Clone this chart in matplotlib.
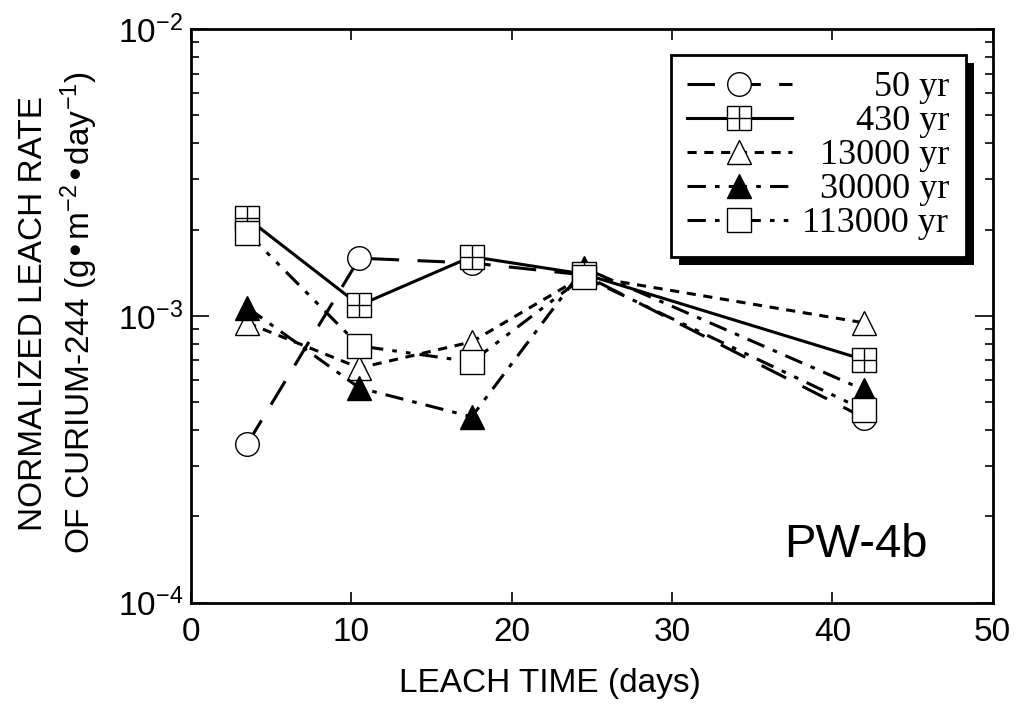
import matplotlib
matplotlib.use('Agg')
import matplotlib.pyplot as plt
from matplotlib.patches import Rectangle
from matplotlib.ticker import LogLocator, NullFormatter

plt.rcParams['font.family'] = ['Liberation Sans', 'DejaVu Sans']
plt.rcParams['mathtext.default'] = 'regular'

# leach time (days) and normalized leach rates
leach_time = [3.5, 10.5, 17.5, 24.5, 42]
rate_50 = [3.58e-4, 1.59e-3, 1.53e-3, 1.39e-3, 4.41e-4]
rate_430 = [2.19e-3, 1.09e-3, 1.61e-3, 1.40e-3, 7.03e-4]
rate_13000 = [9.46e-4, 6.59e-4, 8.12e-4, 1.38e-3, 9.46e-4]
rate_30000 = [1.07e-3, 5.61e-4, 4.45e-4, 1.47e-3, 5.52e-4]
rate_113000 = [1.95e-3, 7.86e-4, 6.92e-4, 1.37e-3, 4.70e-4]

labels = ['50 yr', '430 yr', '13000 yr', '30000 yr', '113000 yr']
x_ticks = [0, 10, 20, 30, 40, 50]
y_ticks = [1e-4, 1e-3, 1e-2]
y_ticklabels = ['$10^{-4}$', '$10^{-3}$', '$10^{-2}$']

# right align legend labels: in Times metrics a digit is two spaces wide
longest = max(len(l) for l in labels)
legend_labels = [' ' * (2 * (longest - len(l))) + l for l in labels]

fig = plt.figure(figsize=(10.17, 7.10), dpi=100)
ax = fig.add_axes([0.188, 0.151, 0.788, 0.808])

lw = 2.2
ms = 17
mew = 1.0
mk = dict(markerfacecolor='white', markeredgecolor='black', markeredgewidth=mew, markersize=ms)

h50, = ax.plot(leach_time, rate_50, color='black', lw=lw, marker='o', dashes=(9, 6), **mk)
h13000, = ax.plot(leach_time, rate_13000, color='black', lw=lw, marker='^', dashes=(3, 2.5), **mk)
h30000, = ax.plot(leach_time, rate_30000, color='black', lw=lw, marker='^', dashes=(6, 3, 1.5, 3),
                  markerfacecolor='black', markeredgecolor='black', markersize=ms)
h430, = ax.plot(leach_time, rate_430, color='black', lw=lw, marker='s', **mk)
h430p, = ax.plot(leach_time, rate_430, color='black', lw=0, marker='+', markersize=ms, markeredgewidth=mew)
h113000, = ax.plot(leach_time, rate_113000, color='black', lw=lw, marker='s',
                   dashes=(6, 3, 1.5, 3, 1.5, 3), **mk)

ax.set_yscale('log')
ax.set_xlim(0, 50)
ax.set_ylim(1e-4, 1e-2)
ax.set_xticks(x_ticks)
ax.set_xticklabels([str(t) for t in x_ticks])
ax.set_yticks(y_ticks)
ax.set_yticklabels(y_ticklabels)
ax.yaxis.set_minor_locator(LogLocator(base=10, subs=range(2, 10)))
ax.yaxis.set_minor_formatter(NullFormatter())

ax.tick_params(axis='both', which='both', direction='in', top=True, right=True, labelsize=24, width=1.2)
ax.tick_params(axis='x', which='major', length=8, pad=10)
ax.tick_params(axis='y', which='major', length=13, pad=6)
ax.tick_params(axis='y', which='minor', length=6)
for s in ax.spines.values():
    s.set_linewidth(2)

ax.set_xlabel('LEACH TIME (days)', fontsize=24)
ax.xaxis.set_label_coords(0.448, -0.113)
ax.set_ylabel('NORMALIZED LEACH RATE\nOF CURIUM-244 (g•m$^{-2}$•day$^{-1}$)', fontsize=24, linespacing=1.3)
ax.yaxis.set_label_coords(-0.114, 0.505)

ax.text(0.83, 0.10, 'PW-4b', transform=ax.transAxes, fontsize=34, ha='center', va='center')

leg = ax.legend([h50, (h430, h430p), h13000, h30000, h113000], legend_labels,
                loc='upper right', bbox_to_anchor=(0.967, 0.955), borderaxespad=0,
                prop={'family': 'Liberation Serif', 'size': 26}, handlelength=2.9,
                handletextpad=0.3, labelspacing=0.02, borderpad=0.45,
                frameon=True, fancybox=False, framealpha=1, edgecolor='black')
leg.get_frame().set_linewidth(2)

# drop shadow behind the legend box
fig.canvas.draw()
renderer = fig.canvas.get_renderer()
bb = leg.get_frame().get_window_extent(renderer)
shadow = Rectangle((bb.x0 + 8, bb.y0 - 8), bb.width, bb.height, transform=None,
                   facecolor='black', edgecolor='none', zorder=4.9)
ax.add_artist(shadow)

fig.savefig('out.png', dpi=100)
